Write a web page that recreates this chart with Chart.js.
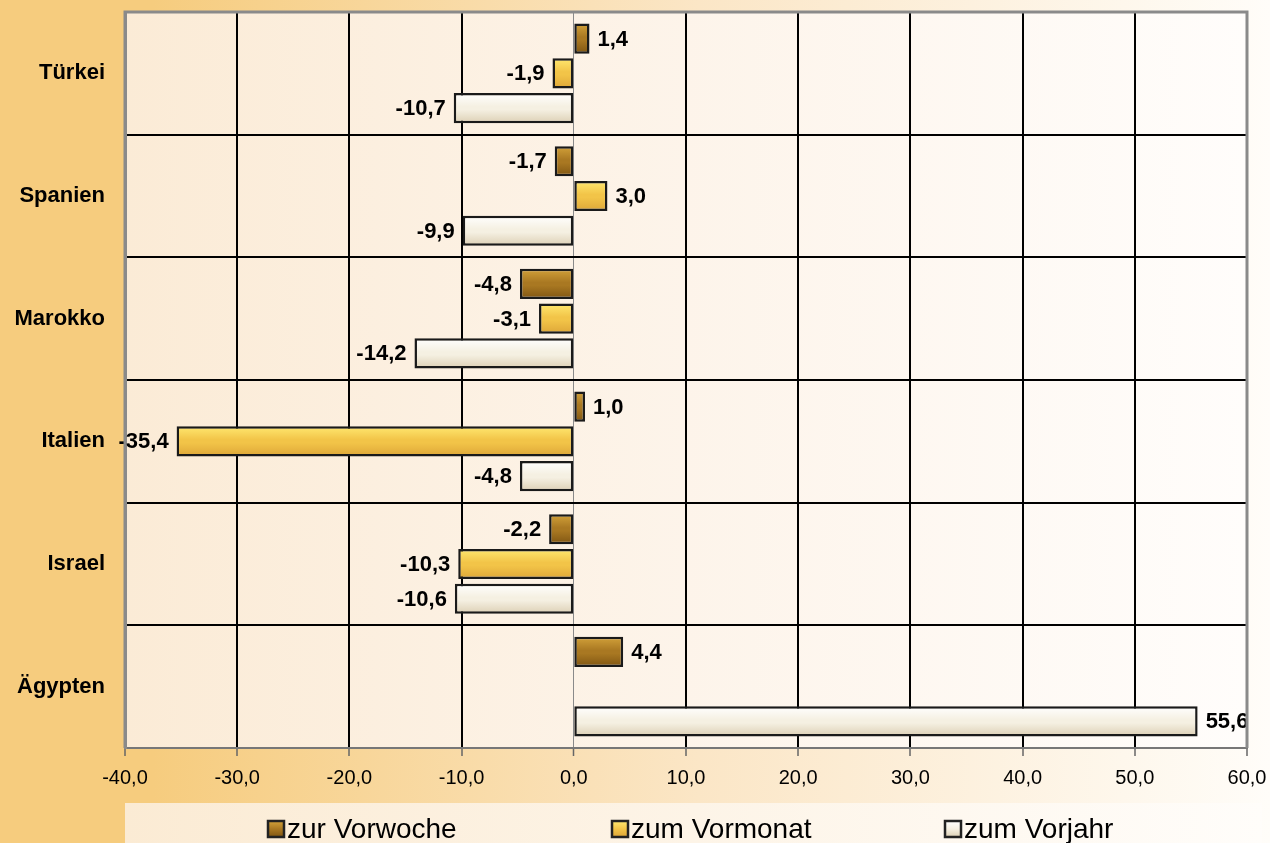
<!DOCTYPE html>
<html><head><meta charset="utf-8">
<script src="https://cdn.jsdelivr.net/npm/chart.js@4.4.1/dist/chart.umd.min.js"></script>
<style>html,body{margin:0;padding:0;background:#fff}#wrap{width:1270px;height:843px;position:relative}</style>
</head><body><div id="wrap"><canvas id="c" width="1270" height="843"></canvas></div>
<script>
const categories = ["Türkei", "Spanien", "Marokko", "Italien", "Israel", "Ägypten"];
const seriesLabels = ["zur Vorwoche", "zum Vormonat", "zum Vorjahr"];
const zurVorwoche = [1.4, -1.7, -4.8, 1.0, -2.2, 4.4];
const zumVormonat = [-1.9, 3.0, -3.1, -35.4, -10.3, null];
const zumVorjahr = [-10.7, -9.9, -14.2, -4.8, -10.6, 55.6];
const xMin = -40, xMax = 60, xStep = 10;

const palettes = [
  ["#D3A23A", "#A97822", "#7F5512"],
  ["#FFE870", "#F2C448", "#DDA638"],
  ["#FFFFFF", "#F5F0E2", "#DCCFB4"]
];
const fmt = v => v.toFixed(1).replace('.', ',');
const CAT_PCT = 0.85, BAR_PCT = 0.87;
const FONT = '"Liberation Sans", Arial, sans-serif';

function barGradient(ctx, di) {
  const chart = ctx.chart;
  const ys = chart.scales && chart.scales.y;
  if (!ys || ctx.dataIndex === undefined) return palettes[di][1];
  const center = ys.getPixelForValue(ctx.dataIndex);
  const band = (ys.bottom - ys.top) / categories.length;
  if (!isFinite(center) || !isFinite(band) || band <= 0) return palettes[di][1];
  const group = band * CAT_PCT, slot = group / 3;
  const c = center - group / 2 + slot * (di + 0.5);
  const h = slot * BAR_PCT;
  const g = chart.ctx.createLinearGradient(0, c - h / 2, 0, c + h / 2);
  const p = palettes[di];
  g.addColorStop(0, p[0]); g.addColorStop(0.45, p[1]); g.addColorStop(0.55, p[1]); g.addColorStop(1, p[2]);
  return g;
}

const bgPlugin = {
  id: 'bg',
  beforeDraw(chart) {
    const { ctx, width, height, chartArea: a } = chart;
    ctx.save();
    let g = ctx.createLinearGradient(0, 0, width, 0);
    g.addColorStop(0, '#F6CC7E'); g.addColorStop(0.12, '#F6CC7E');
    g.addColorStop(0.55, '#FBE6C6'); g.addColorStop(1, '#FFFDF9');
    ctx.fillStyle = g; ctx.fillRect(0, 0, width, height);
    g = ctx.createLinearGradient(125, 0, 1262, 0);
    g.addColorStop(0, '#FBEBD4'); g.addColorStop(1, '#FFFDFA');
    ctx.fillStyle = g; ctx.fillRect(125, 803, 1137, 40);
    g = ctx.createLinearGradient(a.left, 0, a.right, 0);
    g.addColorStop(0, '#FBEBD6'); g.addColorStop(0.5, '#FDF4EA'); g.addColorStop(1, '#FFFDFB');
    ctx.fillStyle = g; ctx.fillRect(a.left, a.top, a.right - a.left, a.bottom - a.top);
    ctx.restore();
  },
  afterDraw(chart) {
    const { ctx, chartArea: a } = chart;
    ctx.save();
    ctx.strokeStyle = '#8a8a8a'; ctx.lineWidth = 3;
    ctx.beginPath();
    ctx.moveTo(a.left, a.bottom); ctx.lineTo(a.left, a.top); ctx.lineTo(a.right, a.top); ctx.lineTo(a.right, a.bottom);
    ctx.stroke();
    const xs = [268, 612, 945];
    ctx.font = '28px ' + FONT;
    ctx.textBaseline = 'middle'; ctx.textAlign = 'left';
    chart.data.datasets.forEach((ds, i) => {
      const x = xs[i], y = 829, s = 16;
      const g = ctx.createLinearGradient(0, y - s / 2, 0, y + s / 2);
      const p = palettes[i];
      g.addColorStop(0, p[0]); g.addColorStop(0.5, p[1]); g.addColorStop(1, p[2]);
      ctx.fillStyle = g; ctx.fillRect(x, y - s / 2, s, s);
      ctx.strokeStyle = '#222'; ctx.lineWidth = 2.5; ctx.strokeRect(x, y - s / 2, s, s);
      ctx.fillStyle = '#000';
      ctx.fillText(ds.label, x + s + 3, y + 1);
    });
    ctx.restore();
  },
  afterDatasetsDraw(chart) {
    const { ctx } = chart;
    ctx.save();
    ctx.font = 'bold 22px ' + FONT;
    ctx.fillStyle = '#000'; ctx.textBaseline = 'middle';
    chart.data.datasets.forEach((ds, di) => {
      const meta = chart.getDatasetMeta(di);
      meta.data.forEach((bar, i) => {
        const v = ds.data[i];
        if (v === null || v === undefined) return;
        if (v >= 0) { ctx.textAlign = 'left'; ctx.fillText(fmt(v), bar.x + 8, bar.y + 1); }
        else { ctx.textAlign = 'right'; ctx.fillText(fmt(v), bar.x - 8, bar.y + 1); }
      });
    });
    ctx.restore();
  }
};

const datasets = [zurVorwoche, zumVormonat, zumVorjahr].map((d, i) => ({
  label: seriesLabels[i],
  data: d,
  backgroundColor: ctx => barGradient(ctx, i),
  borderColor: '#1a1a1a',
  borderWidth: 2.5,
  borderSkipped: false,
  categoryPercentage: CAT_PCT,
  barPercentage: BAR_PCT
}));

new Chart(document.getElementById('c'), {
  type: 'bar',
  data: { labels: categories, datasets },
  plugins: [bgPlugin],
  options: {
    indexAxis: 'y',
    responsive: false,
    animation: false,
    layout: { padding: { left: 0, top: 12, right: 23, bottom: 0 } },
    plugins: { legend: { display: false }, tooltip: { enabled: false } },
    scales: {
      x: {
        min: xMin, max: xMax,
        afterFit: s => { s.height = 95; s.paddingLeft = 0; s.paddingRight = 0; },
        ticks: { stepSize: xStep, color: '#000', padding: 10,
          font: { size: 20, family: FONT },
          callback: v => fmt(v) },
        grid: {
          color: c => (c.tick && c.tick.value === 0) ? '#8a8a8a' : '#000',
          lineWidth: c => (c.tick && c.tick.value === 0) ? 1 : 2,
          tickColor: '#666', tickLength: 8, tickWidth: 1.5
        },
        border: { color: '#777', width: 2 }
      },
      y: {
        afterFit: s => { s.width = 125; s.paddingTop = 0; s.paddingBottom = 0; },
        ticks: { color: '#000', padding: 20,
          font: { size: 22, weight: 'bold', family: FONT } },
        grid: { color: '#000', lineWidth: 2, offset: true, drawTicks: false },
        border: { color: '#8a8a8a', width: 3 }
      }
    }
  }
});
</script></body></html>
